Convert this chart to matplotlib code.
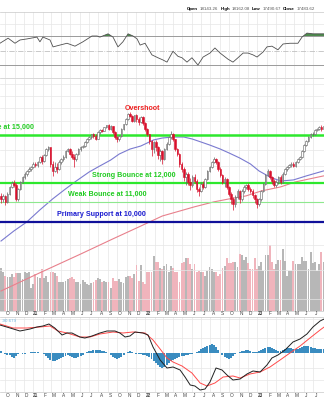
import numpy as np
import pandas as pd
import matplotlib
matplotlib.use('Agg')
import matplotlib.pyplot as plt
from matplotlib.transforms import blended_transform_factory

plt.rcParams['font.family'] = ['Liberation Sans', 'DejaVu Sans']

# weekly bars, first bar is the week ending 2020-09-18
start = pd.Timestamp('2020-09-18')

opens = [11300, 11140, 11300, 10990, 11400, 11780, 12000, 11890, 11140, 11670,
         12060, 12340, 12510, 12690, 12810, 12930, 13110, 13050, 13230, 13540,
         13290, 13670, 14060, 14190, 13110, 12690, 12930, 12810, 13230, 13420,
         13540, 13930, 14060, 13730, 13540, 13420, 13730, 14060, 14190, 14250,
         14520, 14720, 14860, 15070, 14930, 14720, 15210, 15350, 15280, 15570,
         15710, 15430, 15640, 15210, 14860, 14720, 14930, 15430, 15790, 16160,
         16540, 16390, 16010, 16460, 16160, 15940, 16310, 15860, 15430, 15070,
         14590, 14060, 14520, 14190, 13670, 13930, 13420, 14060, 14390, 14860,
         15070, 14720, 14060, 13730, 13110, 12810, 12340, 12510, 12060, 11890,
         12340, 12110, 11670, 11560, 11950, 11780, 12230, 12690, 12930, 13230,
         13420, 13230, 12810, 12460, 12060, 12230, 11780, 11400, 11140, 10890,
         11250, 11560, 11140, 11560, 11780, 11890, 11670, 11560, 11350, 11140,
         10890, 11140, 11560, 11950, 12460, 12690, 12340, 12110, 11890, 12060,
         12340, 12060, 12510, 12810, 12930, 13050, 13110, 12990, 13230, 13420,
         13540, 13930, 14320, 14590, 14860, 15070, 15100, 15350, 15430, 15570,
         15430]
closes = [11140, 11300, 10990, 11400, 11780, 12000, 11890, 11140, 11670, 12060,
          12340, 12510, 12690, 12810, 12930, 13110, 13050, 13230, 13540, 13290,
          13670, 14060, 14190, 13110, 12690, 12930, 12810, 13230, 13420, 13540,
          13930, 14060, 13730, 13540, 13420, 13730, 14060, 14190, 14250, 14520,
          14720, 14860, 15070, 14930, 14720, 15210, 15350, 15280, 15570, 15710,
          15430, 15640, 15210, 14860, 14720, 14930, 15430, 15790, 16160, 16540,
          16390, 16010, 16460, 16160, 15940, 16310, 15860, 15430, 15070, 14590,
          14060, 14520, 14190, 13670, 13930, 13420, 14060, 14390, 14860, 15070,
          14720, 14060, 13730, 13110, 12810, 12340, 12510, 12060, 11890, 12340,
          12110, 11670, 11560, 11950, 11780, 12230, 12690, 12930, 13230, 13420,
          13230, 12810, 12460, 12060, 12230, 11780, 11400, 11140, 10890, 11250,
          11560, 11140, 11560, 11780, 11890, 11670, 11560, 11350, 11140, 10890,
          11140, 11560, 11950, 12460, 12690, 12340, 12110, 11890, 12060, 12340,
          12060, 12510, 12810, 12930, 13050, 13110, 12990, 13230, 13420, 13540,
          13930, 14320, 14590, 14860, 15070, 15100, 15350, 15430, 15570, 15430,
          15640]
highs = [11450, 11420, 11350, 11500, 11850, 12100, 12150, 12000, 11720, 12120,
         12400, 12600, 12750, 12900, 13000, 13200, 13250, 13300, 13620, 13650,
         13750, 14100, 14250, 14200, 13300, 13200, 13150, 13350, 13500, 13650,
         14000, 14150, 14100, 13900, 13700, 13800, 14100, 14250, 14350, 14600,
         14780, 14950, 15100, 15150, 15050, 15250, 15400, 15450, 15600, 15750,
         15760, 15700, 15650, 15250, 14950, 15000, 15480, 15820, 16200, 16600,
         16700, 16450, 16500, 16550, 16300, 16380, 16350, 15950, 15500, 15100,
         14650, 14600, 14650, 14250, 14050, 14000, 14150, 14500, 14950, 15250,
         15150, 14750, 14150, 13800, 13200, 12900, 12650, 12600, 12300, 12450,
         12500, 12200, 11800, 12050, 12100, 12300, 12750, 13000, 13300, 13550,
         13500, 13300, 12900, 12500, 12350, 12300, 11850, 11500, 11250, 11350,
         11650, 11600, 11650, 11900, 11950, 12000, 11800, 11650, 11400, 11200,
         11200, 11600, 12000, 12500, 12800, 12750, 12400, 12200, 12150, 12400,
         12450, 12600, 12850, 13000, 13100, 13200, 13200, 13300, 13500, 13600,
         14000, 14400, 14650, 14950, 15150, 15200, 15400, 15500, 15650, 15700,
         15720]
lows = [10950, 11000, 10850, 10950, 11350, 11700, 11800, 11050, 11050, 11600,
        12000, 12250, 12420, 12600, 12700, 12850, 12900, 12950, 13150, 13100,
        13250, 13600, 13900, 12900, 12400, 12600, 12550, 12750, 13100, 13300,
        13450, 13850, 13650, 13400, 12950, 13300, 13650, 13950, 14100, 14200,
        14450, 14650, 14750, 14800, 14650, 14700, 15100, 15200, 15250, 15500,
        15350, 15350, 15100, 14750, 14550, 14600, 14850, 15380, 15750, 16100,
        16300, 15900, 15950, 15900, 15700, 15850, 15700, 15300, 14900, 14400,
        13600, 13800, 13900, 13400, 13300, 13100, 13350, 14000, 14300, 14700,
        14600, 13950, 13600, 12950, 12600, 12100, 11900, 11900, 11600, 11800,
        12000, 11500, 11300, 11500, 11650, 11700, 12150, 12600, 12850, 13150,
        13100, 12700, 12350, 11950, 11800, 11650, 11300, 10900, 10600, 10750,
        11150, 10950, 11050, 11450, 11650, 11550, 11450, 11200, 10950, 10700,
        10800, 11050, 11500, 11900, 12400, 12250, 11950, 11800, 11750, 11950,
        11950, 12000, 12450, 12700, 12850, 12950, 12900, 12950, 13150, 13350,
        13500, 13850, 14250, 14500, 14800, 14900, 15000, 15250, 15350, 15300,
        15400]
# weekly volume, billions of shares
volume = [21.3, 19.3, 17.3, 16.8, 16.8, 18.5, 16.8, 19.0, 18.8, 18.8,
          16.0, 19.3, 18.8, 19.3, 11.3, 13.5, 18.5, 16.8, 16.3, 21.0,
          16.3, 17.7, 14.3, 19.7, 19.7, 19.0, 17.7, 14.3, 14.7, 14.7,
          15.2, 16.0, 16.5, 17.2, 16.0, 14.3, 14.3, 13.5, 15.5, 14.7,
          13.5, 13.2, 13.8, 14.3, 15.7, 16.5, 16.0, 14.7, 15.2, 14.3,
          14.3, 11.3, 16.3, 15.2, 15.2, 16.0, 14.3, 14.0, 16.8, 17.3,
          17.7, 16.3, 18.5, 23.0, 15.2, 23.0, 14.7, 13.5, 19.3, 19.3,
          19.3, 27.3, 24.7, 24.7, 21.3, 21.0, 22.7, 23.5, 19.7, 22.7,
          21.3, 19.3, 19.3, 14.3, 23.8, 24.3, 26.3, 26.3, 23.5, 21.0,
          23.5, 19.3, 20.2, 19.3, 19.3, 17.7, 20.2, 21.8, 21.0, 19.3,
          19.3, 17.7, 18.5, 21.3, 22.7, 26.3, 24.0, 24.0, 24.3, 24.7,
          21.8, 28.5, 28.0, 25.7, 26.8, 24.0, 21.0, 21.0, 26.3, 21.0,
          22.7, 24.3, 20.2, 28.0, 28.0, 33.0, 24.7, 21.0, 23.5, 25.7,
          25.7, 31.0, 25.2, 17.7, 20.2, 20.2, 25.2, 23.5, 23.5, 23.5,
          26.8, 25.2, 25.2, 21.0, 29.7, 24.0, 24.3, 20.2, 23.5, 29.3,
          24.3]
macd_hist = [50, 0, -30, -50, -50, -100, -125, -75, -25, 0,
             -25, -25, 0, 0, 25, 25, 25, 25, 0, 0,
             -25, -75, -125, -175, -200, -200, -175, -150, -125, -100,
             -75, -50, -75, -100, -125, -125, -100, -75, -50, 0,
             25, 50, 50, 75, 75, 75, 75, 50, 50, 25,
             0, -50, -100, -125, -150, -125, -100, -50, 0, 25,
             50, 25, 0, -25, -25, -25, -50, -50, -75, -100,
             -150, -200, -250, -300, -350, -375, -350, -300, -250, -200,
             -175, -150, -125, -100, -75, -75, -50, -50, -25, -25,
             0, 25, 50, 100, 125, 150, 175, 200, 225, 200,
             150, 75, 0, -50, -100, -125, -150, -125, -75, -25,
             0, 25, 50, 50, 75, 75, 50, 25, 25, 25,
             50, 75, 100, 125, 150, 150, 125, 100, 75, 50,
             50, 75, 100, 125, 125, 125, 100, 100, 100, 125,
             150, 175, 175, 175, 150, 125, 125, 100, 100, 100,
             100]

# moving averages read at sample weeks
ma_fast_wk = [0, 6, 12, 18, 24, 30, 35, 41, 46, 51, 55, 60, 65, 71, 75, 80, 85, 89, 93,
              97, 102, 106, 111, 116, 120, 125, 130, 136, 142, 150]
ma_fast = [9160, 9600, 10010, 10580, 11140, 11670, 12110, 12630, 12990, 13350, 13730,
           14050, 14250, 14660, 14790, 14860, 14860, 14720, 14520, 14320, 14050, 13800,
           13480, 13110, 12690, 12340, 12110, 12170, 12400, 12690]
ma_slow_wk = [0, 18, 37, 52, 65, 75, 90, 99, 106, 114, 121, 130, 137, 150]
ma_slow = [7260, 7900, 8620, 9250, 9820, 10290, 10740, 10990, 11140, 11300, 11560,
           11780, 12060, 12400]

rsi_wk = [-0.5, 3.3, 6.5, 8.8, 12.1, 16.7, 18.1, 19.5, 22.8, 24.2, 27.4, 30.7, 34.4, 38.1,
          42.3, 44.7, 46, 49.8, 52.1, 54.4, 56.7, 59.1, 61.4, 63.3, 64.7, 67, 70.2, 73,
          75.3, 77.2, 80, 82.3, 84.2, 86.5, 88.8, 91.6, 94, 97.2, 99.5, 101.9, 105.6,
          107.9, 110.2, 112.6, 114.9, 117.2, 119.1, 121.9, 123.7, 126, 128.8, 131.2,
          134.4, 138.1, 140, 142.3, 145.1, 150.3]
rsi = [60, 67, 60, 64.5, 66, 68.5, 62, 68.5, 64.5, 55, 57.5, 60, 56, 62, 70, 70, 68.5,
       73, 68.5, 55, 62, 73, 70, 66, 57.5, 60, 44, 40, 37, 34, 49, 42, 40, 34, 40, 30,
       41, 46.5, 53.5, 46.5, 38, 34, 40, 46.5, 46.5, 44, 41, 48, 55, 56, 51, 59, 60, 60,
       68.5, 74, 73, 73]

macd_wk = [-0.5, 4.2, 8.8, 13.5, 16.7, 19.5, 22.3, 25, 28.4, 30.7, 33, 36.7, 39, 42.3,
           46, 49.3, 53, 55.3, 57.7, 60, 62.3, 66, 68.4, 70.7, 74, 77.2, 80, 83.3, 85.6,
           88, 90.2, 92.6, 94.9, 97.2, 100, 102.8, 105.1, 107.9, 111.2, 114.4, 117.2,
           120.5, 123.7, 126, 128.8, 132.1, 135.8, 139.1, 142.3, 145.1, 148.4, 150.3]
macd = [700, 625, 550, 600, 650, 675, 725, 625, 450, 500, 500, 400, 375, 425, 500, 550,
        550, 500, 400, 425, 525, 500, 450, 150, -175, -375, -350, -425, -600, -800, -825,
        -925, -900, -725, -375, -425, -550, -675, -650, -525, -450, -475, -300, -125, -50,
        75, 275, 350, 475, 650, 800, 850]
signal_wk = [-0.5, 5.6, 12.1, 18.1, 22.8, 26.5, 30.7, 36.7, 41.4, 46, 52.1, 56.7, 61.4,
             67, 70.7, 74, 77.2, 80, 84.2, 88.8, 92.6, 95.8, 99.5, 103.3, 107.9, 111.2,
             115.8, 120.5, 125.1, 129.8, 134.4, 139.1, 143.7, 148.4, 150.3]
signal = [725, 625, 625, 650, 675, 550, 500, 400, 400, 475, 525, 500, 525, 500, 325, 100,
          -125, -225, -325, -500, -750, -825, -750, -600, -575, -625, -525, -475, -350,
          -175, 0, 175, 375, 575, 650]

month_labels = ['S', 'O', 'N', 'D', '21', 'F', 'M', 'A', 'M', 'J', 'J', 'A', 'S', 'O', 'N',
                'D', '22', 'F', 'M', 'A', 'M', 'J', 'J', 'A', 'S', 'O', 'N', 'D', '23', 'F',
                'M', 'A', 'M', 'J', 'J']
month_starts = pd.date_range('2020-09-01', periods=len(month_labels), freq='MS')
month_pos = [(d - start).days / 7.0 for d in month_starts]

levels = [15000, 12000, 11000, 10000]
level_text = ['Resistance at 15,000', 'Strong Bounce at 12,000', 'Weak Bounce at 11,000',
              'Primary Support at 10,000']

weeks = np.arange(len(closes))
o = np.array(opens, float)
c = np.array(closes, float)
up = c >= o

fig = plt.figure(figsize=(3.24, 4.0), dpi=100)


def box(top, bottom):
    return [0, 1 - bottom / 400.0, 1, (bottom - top) / 400.0]


ax_rsi = fig.add_axes(box(12, 78))
ax_vol = fig.add_axes(box(79, 311))
ax = fig.add_axes(box(79, 311))
ax_macd = fig.add_axes(box(317, 392))
ax.set_zorder(ax_vol.get_zorder() + 1)
ax.patch.set_visible(False)

xlim = (-0.47, 150.23)
grid_c = '#e6e6e6'
for a in (ax_rsi, ax_vol, ax, ax_macd):
    a.set_xlim(*xlim)
    a.set_xticks([])
    a.set_yticks([])
    for s in ('left', 'right'):
        a.spines[s].set_visible(False)
    for s in ('top', 'bottom'):
        a.spines[s].set_color('#c8c8c8')
        a.spines[s].set_linewidth(0.5)
for a in (ax_rsi, ax_vol, ax_macd):
    for p in month_pos:
        a.axvline(p, color=grid_c, lw=0.5, zorder=0)
ax.spines['top'].set_visible(False)
ax.spines['bottom'].set_visible(False)
ax_vol.spines['top'].set_visible(False)

# ---- RSI panel
ax_rsi.set_ylim(12.1, 103.1)
ax_rsi.axhline(86.6, color=grid_c, lw=0.5)
ax_rsi.axhline(70, color='#9a9a9a', lw=0.7)
ax_rsi.axhline(30, color='#9a9a9a', lw=0.7)
ax_rsi.axhline(50, color='#c0c0c0', lw=0.6, ls='-.')
r = np.array(rsi)
ax_rsi.fill_between(rsi_wk, r, 70, where=r > 70, interpolate=True, color='#4d8a4d', lw=0)
ax_rsi.plot(rsi_wk, rsi, color='#505050', lw=0.6)

# ---- volume (behind price)
ax_vol.set_ylim(0, 116)
vcol = ['#b7b7b7'] + ['#b7b7b7' if closes[i] >= closes[i - 1] else '#f0b4bc'
                      for i in range(1, len(closes))]
ax_vol.bar(weeks, volume, width=0.85, color=vcol, lw=0)

# ---- price panel
ax.set_yscale('log')
ax.set_ylim(6615, 19463)
ax.yaxis.set_minor_locator(matplotlib.ticker.NullLocator())
for v in range(7000, 20000, 1000):
    ax.axhline(v, color=grid_c, lw=0.5, zorder=0)

ax.plot(ma_slow_wk, ma_slow, color='#e8808c', lw=0.8, zorder=2)
ax.plot(ma_fast_wk, ma_fast, color='#7a7ad0', lw=0.8, zorder=2)

ax.axhline(levels[0], color='#2de82d', lw=1.8, zorder=3)
ax.axhline(levels[1], color='#2de82d', lw=1.6, zorder=3)
ax.axhline(levels[2], color='#8ee88e', lw=0.8, zorder=3)
ax.axhline(levels[3], color='#10109a', lw=1.6, zorder=3)

wick_c = np.where(up, '#606060', '#d8102c')
ax.vlines(weeks, lows, highs, colors=wick_c, lw=0.5, zorder=4)
body_lo = np.minimum(o, c)
body_h = np.maximum(np.abs(c - o), 20)
ax.bar(weeks, body_h, bottom=body_lo, width=0.75,
       color=np.where(up, 'white', '#d8102c'),
       edgecolor=np.where(up, '#606060', '#d8102c'), lw=0.4, zorder=5)

fs = 5.1
ax.text(15.3, 15300, level_text[0], color='#22cc22', fontsize=fs, fontweight='bold',
        ha='right', va='bottom', zorder=6)
ax.text(42.3, 12230, level_text[1], color='#22cc22', fontsize=fs, fontweight='bold',
        ha='left', va='bottom', zorder=6)
ax.text(31.2, 11220, level_text[2], color='#22cc22', fontsize=fs, fontweight='bold',
        ha='left', va='bottom', zorder=6)
ax.text(26.0, 10200, level_text[3], color='#1a1ad0', fontsize=fs, fontweight='bold',
        ha='left', va='bottom', zorder=6)
ax.text(65.8, 16700, 'Overshoot', color='#ee2222', fontsize=fs, fontweight='bold',
        ha='center', va='bottom', zorder=6)

# ---- MACD panel
ax_macd.set_ylim(-975, 900)
for v in (850, 375, -375, -675):
    ax_macd.axhline(v, color=grid_c, lw=0.5, zorder=0)
ax_macd.bar(weeks, macd_hist, width=0.9, color='#3a8cc0', lw=0, zorder=2)
ax_macd.plot(signal_wk, signal, color='#ff4a4a', lw=0.7, zorder=3)
ax_macd.plot(macd_wk, macd, color='#202020', lw=0.7, zorder=4)
ax_macd.text(0.006, 0.97, '-90.679', transform=ax_macd.transAxes, color='#6ab4e0',
             fontsize=3.2, ha='left', va='top')

# ---- date labels
for a, yoff in ((ax, -0.011), (ax_macd, -0.047)):
    t = blended_transform_factory(a.transData, a.transAxes)
    for p, lab in zip(month_pos, month_labels):
        a.text(p + 1.25, yoff, lab, transform=t, fontsize=3.4, color='#404040',
               fontweight='bold' if lab.isdigit() else 'normal',
               ha='center', va='center', clip_on=False)

# ---- header
renderer = fig.canvas.get_renderer()
x = 187 / 324.0
for lab, val in (('Open', '18143.26'), ('High', '18162.08'), ('Low', '17490.67'),
                 ('Close', '17483.62')):
    for s, wgt, col in ((lab, 'bold', '#000000'), (val, 'normal', '#555555')):
        t = fig.text(x, 1 - 9 / 400.0, s, fontsize=3.2, fontweight=wgt, color=col,
                     ha='left', va='center')
        bb = t.get_window_extent(renderer)
        x += (bb.width + 2.0) / 324.0

fig.savefig('out.png', dpi=100)
